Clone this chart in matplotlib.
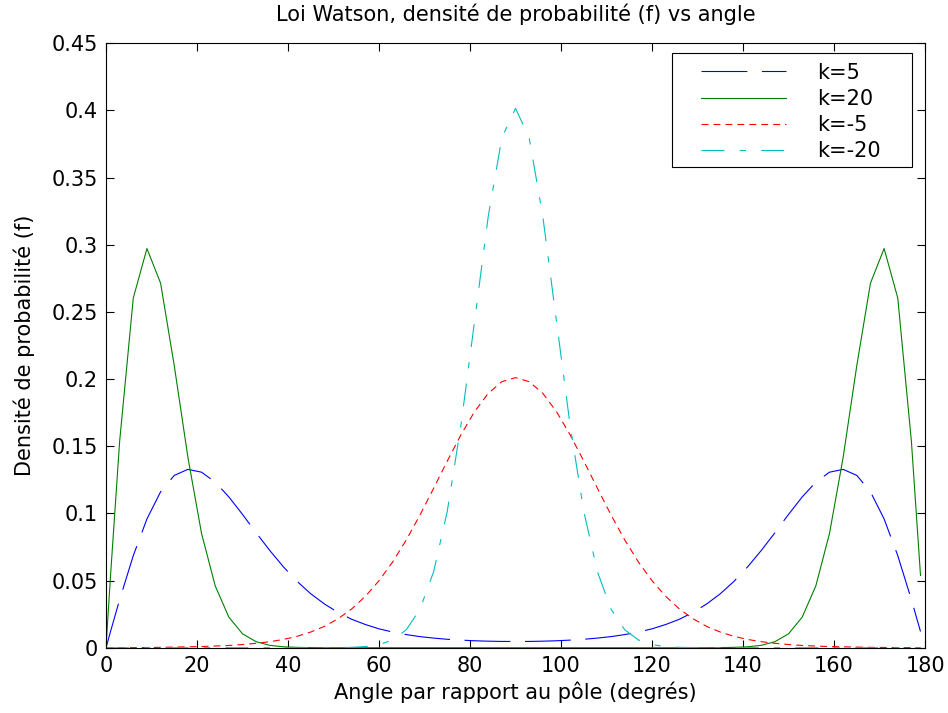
import matplotlib
matplotlib.use("Agg")
import matplotlib.pyplot as plt
from matplotlib.patches import Rectangle

angle = [0, 1, 3, 6, 9, 12, 15, 18, 21, 24, 27, 30, 33, 36, 39, 42, 45, 48, 51, 54,
         57, 60, 63, 66, 69, 72, 75, 78, 81, 84, 87, 90, 93, 96, 99, 102, 105, 108,
         111, 114, 117, 120, 123, 126, 129, 132, 135, 138, 141, 144, 147, 150, 153,
         156, 159, 162, 165, 168, 171, 174, 177, 179]

f_k5 = [0, 0.0121, 0.0358, 0.0686, 0.0959, 0.1161, 0.1283, 0.1328, 0.1307, 0.1233,
        0.1123, 0.0993, 0.0856, 0.0724, 0.0602, 0.0494, 0.0402, 0.0326, 0.0263, 0.0212,
        0.0173, 0.0141, 0.0117, 0.0098, 0.0083, 0.0072, 0.0063, 0.0057, 0.0052, 0.0049,
        0.0047, 0.0047, 0.0047, 0.0049, 0.0052, 0.0057, 0.0063, 0.0072, 0.0083, 0.0098,
        0.0117, 0.0141, 0.0173, 0.0212, 0.0263, 0.0326, 0.0402, 0.0494, 0.0602, 0.0724,
        0.0856, 0.0993, 0.1123, 0.1233, 0.1307, 0.1328, 0.1283, 0.1161, 0.0959, 0.0686,
        0.0358, 0.0121]

f_k20 = [0, 0.0538, 0.1536, 0.2604, 0.2972, 0.2714, 0.2101, 0.1418, 0.0851, 0.0461,
         0.0228, 0.0104, 0.0045, 0.0018, 0.0007, 0.0003, 0.0001, 0, 0, 0,
         0, 0, 0, 0, 0, 0, 0, 0, 0, 0,
         0, 0, 0, 0, 0, 0, 0, 0, 0, 0,
         0, 0, 0, 0, 0, 0, 0.0001, 0.0003, 0.0007, 0.0018,
         0.0045, 0.0104, 0.0228, 0.0461, 0.0851, 0.1418, 0.2101, 0.2714, 0.2972, 0.2604,
         0.1536, 0.0538]

f_km5 = [0, 0.0000, 0.0001, 0.0001, 0.0002, 0.0003, 0.0005, 0.0007, 0.0009, 0.0013,
         0.0017, 0.0024, 0.0033, 0.0045, 0.0062, 0.0085, 0.0117, 0.0159, 0.0216, 0.0289,
         0.0383, 0.0499, 0.0639, 0.0803, 0.0988, 0.1187, 0.1390, 0.1585, 0.1758, 0.1894,
         0.1981, 0.2011, 0.1981, 0.1894, 0.1758, 0.1585, 0.1390, 0.1187, 0.0988, 0.0803,
         0.0639, 0.0499, 0.0383, 0.0289, 0.0216, 0.0159, 0.0117, 0.0085, 0.0062, 0.0045,
         0.0033, 0.0024, 0.0017, 0.0013, 0.0009, 0.0007, 0.0005, 0.0003, 0.0002, 0.0001,
         0.0001, 0.0000]

f_km20 = [0, 0, 0, 0, 0, 0, 0, 0, 0, 0,
          0, 0, 0, 0, 0, 0, 0, 0.0000, 0.0001, 0.0003,
          0.0009, 0.0023, 0.0058, 0.0134, 0.0287, 0.0566, 0.1016, 0.1655, 0.2431, 0.3210,
          0.3797, 0.4016, 0.3797, 0.3210, 0.2431, 0.1655, 0.1016, 0.0566, 0.0287, 0.0134,
          0.0058, 0.0023, 0.0009, 0.0003, 0.0001, 0.0000, 0, 0, 0, 0,
          0, 0, 0, 0, 0, 0, 0, 0, 0, 0,
          0, 0]

labels = ["k=5", "k=20", "k=-5", "k=-20"]
x_ticks = [0, 20, 40, 60, 80, 100, 120, 140, 160, 180]
y_ticks = [0, 0.05, 0.1, 0.15, 0.2, 0.25, 0.3, 0.35, 0.4, 0.45]
y_ticklabels = ["0", "0.05", "0.1", "0.15", "0.2", "0.25", "0.3", "0.35", "0.4", "0.45"]

plt.rcParams["font.family"] = ["DejaVu Sans"]
plt.rcParams["lines.scale_dashes"] = False
FS = 15

fig = plt.figure(figsize=(9.48, 7.13), dpi=100)
ax = fig.add_axes([0.1118, 0.0915, 0.8640, 0.8478])

lw = 0.8
ax.plot(angle, f_k5, color="#0000ff", lw=lw, dashes=(33, 10.5), label=labels[0])
ax.plot(angle, f_k20, color="#008000", lw=lw, label=labels[1])
ax.plot(angle, f_km5, color="#ff0000", lw=lw, dashes=(5, 3.6), label=labels[2])
ax.plot(angle, f_km20, color="#00bfbf", lw=lw, dashes=(16.5, 11, 4.5, 11), label=labels[3])

ax.set_xlim(0, 180)
ax.set_ylim(0, 0.45)
ax.set_xticks(x_ticks)
ax.set_yticks(y_ticks)
ax.set_yticklabels(y_ticklabels)
ax.tick_params(direction="in", length=5.8, width=0.8, top=True, right=True,
               labelsize=FS, pad=6)
for s in ax.spines.values():
    s.set_linewidth(0.8)

ax.set_xlabel("Angle par rapport au pôle (degrés)", fontsize=FS, labelpad=4)
ax.set_ylabel("Densité de probabilité (f)", fontsize=FS, labelpad=12)
ax.set_title("Loi Watson, densité de probabilité (f) vs angle", fontsize=FS, pad=16)

# MATLAB-style legend box: frame drawn separately, entries placed inside it
ax.add_patch(Rectangle((0.691, 0.796), 0.293, 0.1885, transform=ax.transAxes,
                       facecolor="white", edgecolor="black", lw=0.8, zorder=4.5))
leg = ax.legend(loc="upper left", bbox_to_anchor=(0.7265, 0.968), borderaxespad=0,
                borderpad=0, fontsize=FS, handlelength=4.1, handletextpad=1.45,
                labelspacing=0.3, frameon=False)
leg.set_zorder(5)

fig.savefig("out.png", dpi=100)
